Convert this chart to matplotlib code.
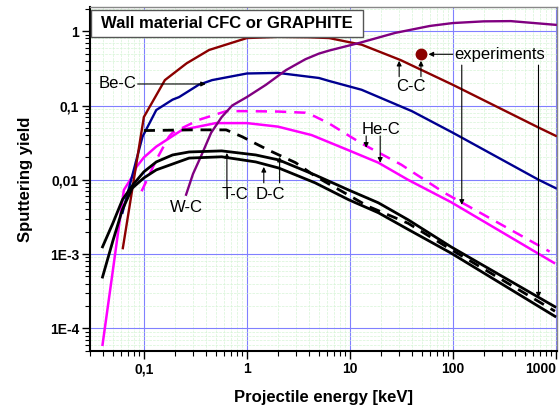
import matplotlib
matplotlib.use("Agg")
import matplotlib.pyplot as plt
from matplotlib.patches import Rectangle
from matplotlib.ticker import LogLocator, NullFormatter

plt.rcParams["font.family"] = ["Liberation Sans", "DejaVu Sans"]

# energies in keV, sputtering yields
cc_e = [0.0625, 0.1, 0.16, 0.26, 0.43, 1.0, 2.0, 4.0, 6.3, 10, 13, 31, 100, 690, 1000]
cc_y = [1.2e-3, 0.070, 0.22, 0.37, 0.56, 0.81, 0.84, 0.83, 0.81, 0.71, 0.66, 0.41, 0.19, 0.050, 0.039]

be_e = [0.062, 0.097, 0.132, 0.19, 0.22, 0.34, 0.46, 1.0, 2.0, 5.0, 6.3, 13, 40, 100, 680, 1000]
be_y = [3.6e-3, 0.038, 0.087, 0.12, 0.13, 0.19, 0.22, 0.27, 0.275, 0.235, 0.214, 0.163, 0.084, 0.043, 0.010, 7.7e-3]

wc_e = [0.257, 0.30, 0.36, 0.45, 0.57, 0.72, 1.0, 1.53, 2.4, 3.7, 5.0, 6.3, 12.5, 27.5, 60, 100, 200, 365, 1000]
wc_y = [6.3e-3, 0.012, 0.021, 0.043, 0.070, 0.10, 0.13, 0.19, 0.30, 0.42, 0.50, 0.55, 0.70, 0.95, 1.18, 1.29, 1.36, 1.37, 1.22]

he_e = [0.0397, 0.05, 0.064, 0.077, 0.085, 0.1, 0.132, 0.235, 0.5, 1.0, 2.0, 4.25, 9.7, 18.9, 36.7, 96, 960]
he_y = [6e-5, 6e-4, 7.3e-3, 0.011, 0.015, 0.02, 0.028, 0.047, 0.058, 0.058, 0.052, 0.040, 0.025, 0.017, 0.010, 5.0e-3, 7.6e-4]

hed_e = [0.095, 0.132, 0.175, 0.19, 0.34, 0.63, 1.0, 2.0, 3.7, 4.5, 6.2, 12.9, 31.5, 84, 870]
hed_y = [7e-3, 0.0185, 0.038, 0.043, 0.064, 0.084, 0.084, 0.083, 0.08, 0.072, 0.058, 0.031, 0.016, 6.6e-3, 1.08e-3]

tc_e = [0.0397, 0.05, 0.062, 0.077, 0.1, 0.132, 0.19, 0.275, 0.57, 1.22, 2.04, 4.6, 9.7, 18.9, 36.7, 96, 980]
tc_y = [1.25e-3, 2.6e-3, 5.4e-3, 8.3e-3, 0.0128, 0.0174, 0.0216, 0.0237, 0.0245, 0.0216, 0.0185, 0.0116, 7.3e-3, 4.9e-3, 2.9e-3, 1.25e-3, 1.95e-4]

dc_e = [0.0397, 0.05, 0.062, 0.077, 0.1, 0.132, 0.275, 0.57, 1.22, 2.04, 4.6, 9.7, 18.9, 36.7, 96, 980]
dc_y = [4.9e-4, 1.5e-3, 4.0e-3, 7.7e-3, 0.0106, 0.0136, 0.0196, 0.0204, 0.0174, 0.0144, 9.1e-3, 5.4e-3, 3.6e-3, 2.15e-3, 1.03e-3, 1.45e-4]

dcd_e = [0.1, 0.29, 0.63, 0.9, 1.63, 2.97, 4.6, 9.0, 15, 36.7, 96, 980]
dcd_y = [0.046, 0.047, 0.047, 0.038, 0.025, 0.017, 0.0112, 6.6e-3, 4.4e-3, 2.6e-3, 1.15e-3, 1.7e-4]

exp_e = [49]
exp_y = [0.49]

xticks = [0.1, 1, 10, 100, 1000]
xlabels = ["0,1", "1", "10", "100", "1000"]
yticks = [1e-4, 1e-3, 1e-2, 0.1, 1]
ylabels = ["1E-4", "1E-3", "0,01", "0,1", "1"]

fig = plt.figure(figsize=(5.59, 4.07), dpi=100)
ax = fig.add_axes([0.161, 0.1376, 0.835, 0.844])
ax.set_xscale("log")
ax.set_yscale("log")
ax.set_xlim(0.03, 1020)
ax.set_ylim(4.95e-5, 2.09)

ax.grid(True, which="major", color="#8080ff", lw=0.8)
ax.grid(True, which="minor", color="#d6f4d6", ls="--", lw=0.5)
ax.set_axisbelow(True)

ax.plot(hed_e, hed_y, color="#ff00ff", lw=1.8, dashes=(4.5, 3.2))
ax.plot(he_e, he_y, color="#ff00ff", lw=1.8)
ax.plot(be_e, be_y, color="#000090", lw=1.7)
ax.plot(cc_e, cc_y, color="#8b0000", lw=1.7)
ax.plot(wc_e, wc_y, color="#800080", lw=1.7)
ax.plot(dcd_e, dcd_y, color="black", lw=2.0, dashes=(4, 2.8))
ax.plot(tc_e, tc_y, color="black", lw=2.0)
ax.plot(dc_e, dc_y, color="black", lw=2.0)
ax.plot(exp_e, exp_y, "o", color="#8b0000", ms=7.5)

ax.set_xticks(xticks)
ax.set_xticklabels(xlabels, fontsize=10, fontweight="bold")
ax.set_yticks(yticks)
ax.set_yticklabels(ylabels, fontsize=10, fontweight="bold")
ax.xaxis.set_minor_locator(LogLocator(base=10, subs=range(2, 10), numticks=20))
ax.yaxis.set_minor_locator(LogLocator(base=10, subs=range(2, 10), numticks=20))
ax.xaxis.set_minor_formatter(NullFormatter())
ax.yaxis.set_minor_formatter(NullFormatter())
ax.get_xticklabels()[-1].set_horizontalalignment("right")
ax.tick_params(which="major", direction="out", length=6, width=1, pad=2)
ax.tick_params(which="minor", direction="out", length=3.5, width=0.8)

for s in ["left", "bottom"]:
    ax.spines[s].set_linewidth(1.5)
for s in ["top", "right"]:
    ax.spines[s].set_color("#888888")
    ax.spines[s].set_linewidth(1)

ax.set_xlabel("Projectile energy [keV]", fontsize=12, fontweight="bold", labelpad=10)
ax.set_ylabel("Sputtering yield", fontsize=12, fontweight="bold", labelpad=12)

# title box
ax.add_patch(Rectangle((0.002, 0.915), 0.583, 0.077, transform=ax.transAxes,
                       facecolor="white", edgecolor="#555555", lw=1, zorder=5))
ax.text(0.293, 0.953, "Wall material CFC or GRAPHITE", transform=ax.transAxes,
        ha="center", va="center", fontsize=12, fontweight="bold", zorder=6)

arr = dict(arrowstyle="-|>", color="black", lw=0.8, mutation_scale=7, shrinkA=0, shrinkB=0)

def arrow(tail, tip):
    ax.annotate("", xy=tip, xytext=tail, arrowprops=arr)

ax.text(0.0555, 0.195, "Be-C", fontsize=12, ha="center", va="center")
arrow((0.087, 0.195), (0.40, 0.195))

ax.text(0.257, 4.3e-3, "W-C", fontsize=12, ha="center", va="center")

ax.text(0.77, 6.3e-3, "T-C", fontsize=12, ha="center", va="center")
arrow((0.64, 8.0e-3), (0.64, 0.023))

ax.text(1.71, 6.4e-3, "D-C", fontsize=12, ha="center", va="center")
arrow((1.46, 9.1e-3), (1.46, 0.0149))
arrow((2.08, 9.1e-3), (2.08, 0.0204))

ax.text(20.1, 0.048, "He-C", fontsize=12, ha="center", va="center")
arrow((14.4, 0.039), (14.4, 0.027))
arrow((19.7, 0.039), (19.7, 0.017))

ax.text(39.3, 0.183, "C-C", fontsize=12, ha="center", va="center")
arrow((30.1, 0.245), (30.1, 0.40))
arrow((49, 0.245), (49, 0.40))

ax.text(284, 0.49, "experiments", fontsize=12, ha="center", va="center")
arrow((100, 0.49), (58, 0.49))
arrow((122, 0.35), (122, 4.6e-3))
arrow((678, 0.35), (678, 2.6e-4))

fig.savefig("out.png", dpi=100, facecolor="white")
